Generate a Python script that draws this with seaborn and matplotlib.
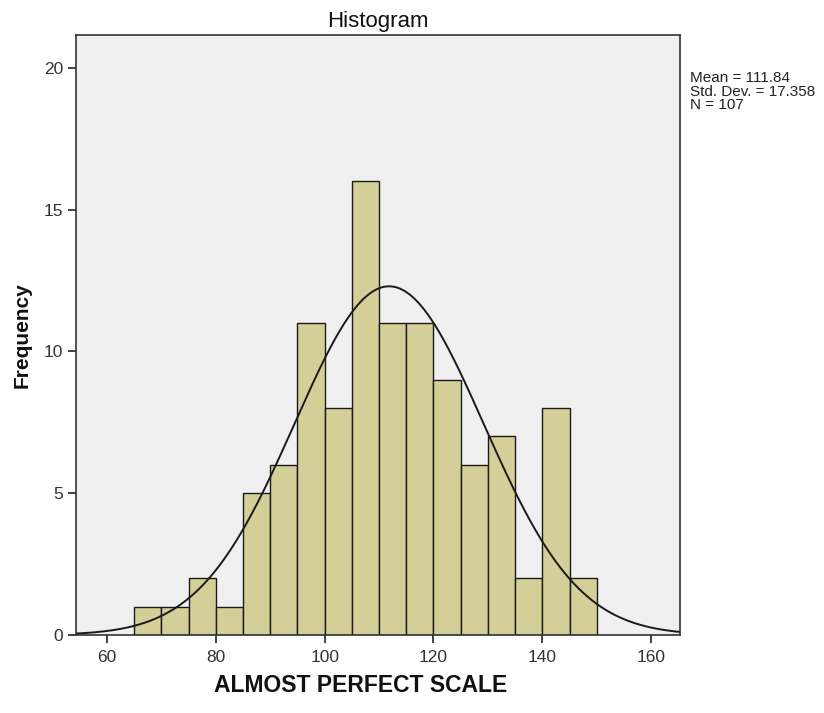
import numpy as np
import pandas as pd
import matplotlib
matplotlib.use("Agg")
import matplotlib.pyplot as plt
import seaborn as sns

# Histogram data (bin width 5)
bin_edges = [65, 70, 75, 80, 85, 90, 95, 100, 105, 110, 115, 120, 125, 130, 135, 140, 145, 150]
counts = [1, 1, 2, 1, 5, 6, 11, 8, 16, 11, 11, 9, 6, 7, 2, 8, 2]
mean_val = 111.84
std_val = 17.358
n_val = 107

sns.set_style("white")
plt.rcParams["font.family"] = ["Liberation Sans", "DejaVu Sans"]

df = pd.DataFrame({
    "mid": [e + 2.5 for e in bin_edges[:-1]],
    "count": counts,
})

fig = plt.figure(figsize=(8.24, 7.13), dpi=100)
ax = fig.add_axes([0.0922, 0.1094, 0.7330, 0.8416])
ax.set_facecolor("#f0f0f0")

sns.histplot(data=df, x="mid", weights="count", bins=bin_edges,
             color="#d4cf98", edgecolor="#1a1a1a", linewidth=1.0,
             alpha=1, ax=ax)

# Normal curve scaled to counts
xs = np.linspace(54.3, 165.3, 400)
width = bin_edges[1] - bin_edges[0]
ys = n_val * width / (std_val * np.sqrt(2 * np.pi)) * np.exp(-0.5 * ((xs - mean_val) / std_val) ** 2)
sns.lineplot(x=xs, y=ys, color="#1a1a1a", linewidth=1.4, ax=ax)

ax.set_xlim(54.3, 165.3)
ax.set_ylim(0, 21.16)
ax.set_xticks([60, 80, 100, 120, 140, 160])
ax.set_yticks([0, 5, 10, 15, 20])
ax.tick_params(axis="both", direction="out", length=6, width=1.3, color="#333333",
               labelsize=12.5, labelcolor="#333333", pad=3, bottom=True, left=True)
ax.tick_params(axis="x", pad=5)
for s in ax.spines.values():
    s.set_color("#333333")
    s.set_linewidth(1.2)
ax.set_xlabel("")
ax.set_ylabel("")

ax.set_title("Histogram", fontsize=16, color="#111111", pad=6)
fig.text(0.438, 0.022, "ALMOST PERFECT SCALE", fontsize=16.5, fontweight="bold",
         ha="center", va="bottom", color="#111111")
fig.text(0.027, 0.53, "Frequency", fontsize=15, fontweight="bold",
         rotation=90, ha="center", va="center", color="#111111")
fig.text(0.837, 0.9, f"Mean = {mean_val}\nStd. Dev. = {std_val}\nN = {n_val}",
         fontsize=11, ha="left", va="top", color="#222222", linespacing=0.95)

fig.savefig("out.png", dpi=100)
